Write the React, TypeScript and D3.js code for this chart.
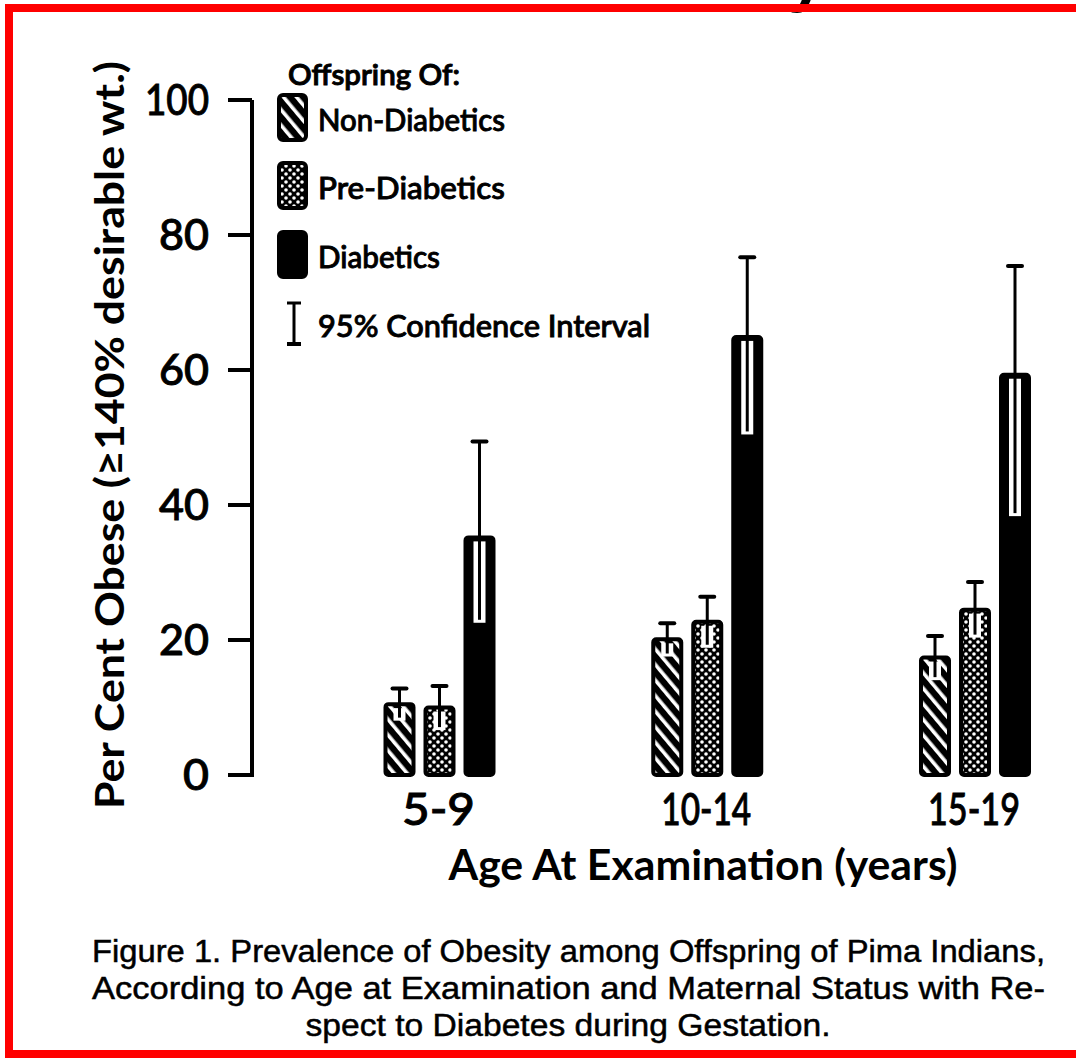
import React from "react";
import * as d3 from "d3";

// age groups and series
const groups = ["5-9", "10-14", "15-19"];
const series = ["Non-Diabetics", "Pre-Diabetics", "Diabetics"];

// per cent obese
const nonDiabetics = [10.5, 20.1, 17.4];
const preDiabetics = [10.0, 22.7, 24.5];
const diabetics = [35.2, 64.9, 59.3];

// 95% confidence limits
const nonLow = [8.2, 17.7, 14.2];
const nonHigh = [12.8, 22.5, 20.6];
const preLow = [6.8, 19.0, 20.5];
const preHigh = [13.2, 26.4, 28.6];
const diaLow = [22.7, 50.6, 38.5];
const diaHigh = [49.4, 76.7, 75.4];

const yTicks = [0, 20, 40, 60, 80, 100];

const caption = [
  "Figure 1. Prevalence of Obesity among Offspring of Pima Indians,",
  "According to Age at Examination and Maternal Status with Re-",
  "spect to Diabetes during Gestation.",
];

const W = 1076;
const H = 1060;
const chartFont = "Lato, 'DejaVu Sans', sans-serif";
const captionFont = "'Liberation Sans Narrow', 'Liberation Sans', Arial, sans-serif";

export default function App() {
  const y = d3.scaleLinear().domain([0, 100]).range([775, 100]);
  const x = d3.scalePoint<string>().domain(groups).range([438.5, 974]);
  const inner = d3.scaleBand<string>().domain(series).range([-55, 57]).paddingInner(0.2);

  const values = [nonDiabetics, preDiabetics, diabetics];
  const lows = [nonLow, preLow, diaLow];
  const highs = [nonHigh, preHigh, diaHigh];
  const fills = ["url(#hatch)", "url(#dots)", "#000"];
  const bw = inner.bandwidth();

  const bars = groups.flatMap((g, gi) =>
    series.map((s, si) => ({
      key: g + s,
      x0: (x(g) as number) + (inner(s) as number),
      v: values[si][gi],
      lo: lows[si][gi],
      hi: highs[si][gi],
      fill: fills[si],
    }))
  );

  const legendY = [95, 163, 232];
  const heavy = { stroke: "#000", strokeWidth: 0.9 };

  return (
    <div style={{ position: "fixed", left: 0, top: 0, width: W, height: H, background: "#fff" }}>
      <svg width={W} height={H} style={{ display: "block" }}>
        <defs>
          <pattern id="hatch" patternUnits="userSpaceOnUse" width="10" height="10" patternTransform="rotate(-40)">
            <rect width="10" height="10" fill="#000" />
            <rect x="3" width="3.6" height="10" fill="#fff" />
          </pattern>
          <pattern id="dots" patternUnits="userSpaceOnUse" width="8" height="8">
            <rect width="8" height="8" fill="#000" />
            <circle cx="2" cy="2" r="1.8" fill="#fff" />
            <circle cx="6" cy="6" r="1.8" fill="#fff" />
          </pattern>
        </defs>

        <rect x={0} y={0} width={W} height={H} fill="#fff" />
        {/* title remnant above the frame, cut off in the source too */}
        <text x={806} y={0} fontFamily="'Liberation Sans', Arial, sans-serif" fontWeight="bold"
          fontSize={64} textAnchor="middle">y</text>
        <rect x={9} y={8} width={W + 20} height={1046} fill="none" stroke="#f00" strokeWidth={8} />

        {/* y axis */}
        <line x1={252} x2={252} y1={y(100)} y2={y(0) + 2} stroke="#000" strokeWidth={4} />
        {yTicks.map((t) => (
          <g key={t}>
            <line x1={228} x2={252} y1={y(t)} y2={y(t)} stroke="#000" strokeWidth={4} />
            <text x={209} y={y(t)} dy="0.36em" textAnchor="end" fontFamily={chartFont}
              fontSize={42} fontWeight={500} {...heavy}
              textLength={t === 100 ? 64 : t === 0 ? 26 : 50} lengthAdjust="spacingAndGlyphs">{t}</text>
          </g>
        ))}
        <text transform={`translate(124,${435}) rotate(-90)`} textAnchor="middle" fontFamily={chartFont}
          fontWeight="bold" fontSize={40} textLength={748} lengthAdjust="spacingAndGlyphs">
          Per Cent Obese (≥140% desirable wt.)
        </text>

        {/* legend */}
        <text x={288} y={85} fontFamily={chartFont} fontSize={28} fontWeight={600} {...heavy}
          textLength={172} lengthAdjust="spacingAndGlyphs">Offspring Of:</text>
        {series.map((s, i) => (
          <g key={s}>
            <rect x={279} y={legendY[i]} width={27} height={45} rx={4} fill={fills[i]}
              stroke="#000" strokeWidth={4} />
            <text x={318} y={legendY[i] + 36} fontFamily={chartFont} fontSize={30} fontWeight={500}
              {...heavy} textLength={[187, 187, 122][i]} lengthAdjust="spacingAndGlyphs">{s}</text>
          </g>
        ))}
        <line x1={294} x2={294} y1={303} y2={344} stroke="#000" strokeWidth={3} />
        <line x1={287} x2={301} y1={303} y2={303} stroke="#000" strokeWidth={3} />
        <line x1={287} x2={301} y1={344} y2={344} stroke="#000" strokeWidth={4} />
        <text x={318} y={337} fontFamily={chartFont} fontSize={30} fontWeight={500} {...heavy}
          textLength={332} lengthAdjust="spacingAndGlyphs">95% Confidence Interval</text>

        {/* bars with confidence intervals */}
        {bars.map((b) => {
          const cx = b.x0 + bw / 2;
          return (
            <g key={b.key}>
              <rect x={b.x0 + 2} y={y(b.v)} width={bw - 4} height={y(0) - y(b.v)} rx={3}
                fill={b.fill} stroke="#000" strokeWidth={4} />
              <rect x={cx - 6} y={y(b.v) + 4} width={12} height={Math.max(0, y(b.lo) - y(b.v) - 3)}
                fill="#fff" />
              <line x1={cx} x2={cx} y1={y(b.hi)} y2={y(b.lo) - 2} stroke="#000" strokeWidth={3} />
              <line x1={cx - 7} x2={cx + 7} y1={y(b.hi)} y2={y(b.hi)} stroke="#000" strokeWidth={4}
                strokeLinecap="round" />
            </g>
          );
        })}

        {/* x axis labels */}
        {groups.map((g, i) => (
          <text key={g} x={x(g)} y={825} textAnchor="middle" fontFamily={chartFont} fontSize={44}
            fontWeight={500} {...heavy} textLength={[73, 90, 92][i]}
            lengthAdjust="spacingAndGlyphs">{g}</text>
        ))}
        <text x={703} y={880} textAnchor="middle" fontFamily={chartFont} fontWeight="bold" fontSize={42}
          textLength={509} lengthAdjust="spacingAndGlyphs">Age At Examination (years)</text>

        {/* caption */}
        {caption.map((line, i) => (
          <text key={i} x={i < 2 ? 92 : 568} y={962 + i * 37}
            textAnchor={i < 2 ? "start" : "middle"}
            fontFamily={captionFont} fontSize={31} stroke="#000" strokeWidth={0.5}
            textLength={i < 2 ? 953 : 525} lengthAdjust="spacingAndGlyphs">{line}</text>
        ))}
      </svg>
    </div>
  );
}
